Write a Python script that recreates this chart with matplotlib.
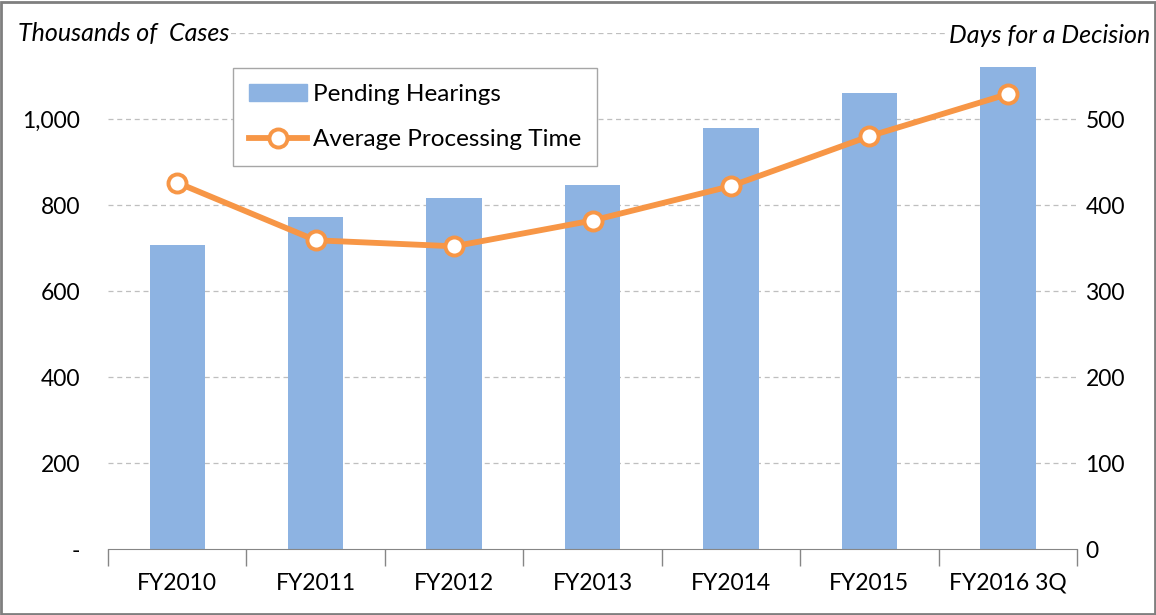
import matplotlib.pyplot as plt
import numpy as np
from matplotlib.patches import Rectangle
from matplotlib.lines import Line2D

years = ['FY2010', 'FY2011', 'FY2012', 'FY2013', 'FY2014', 'FY2015', 'FY2016 3Q']
pending = [707, 772, 816, 847, 979, 1060, 1121]
avg_days = [426, 359, 352, 382, 422, 480, 529]
left_ticks = [0, 200, 400, 600, 800, 1000]
left_labels = ['-', '200', '400', '600', '800', '1,000']
right_ticks = [0, 100, 200, 300, 400, 500]

bar_color = '#8DB3E2'
line_color = '#F79646'
grid_color = '#BFBFBF'

plt.rcParams['font.family'] = ['Lato', 'DejaVu Sans']

fig = plt.figure(figsize=(11.56, 6.15), dpi=100)
ax = fig.add_axes([0.0934, 0.1073, 0.8383, 0.839])
x = np.arange(len(years))

for y in left_ticks[1:] + [1200]:
    ax.axhline(y, color=grid_color, lw=0.9, ls=(0, (4, 3)), zorder=0)

ax.bar(x, pending, width=0.4, color=bar_color, zorder=2, label='Pending Hearings')
ax.set_xlim(-0.5, len(years) - 0.5)
ax.set_ylim(0, 1200)
ax.set_yticks(left_ticks)
ax.set_yticklabels(left_labels)
ax.set_xticks(x)
ax.set_xticklabels(years)
ax.set_xticks(np.arange(-0.5, len(years)), minor=True)
ax.tick_params(axis='x', which='major', length=0, pad=17, labelsize=16.5)
ax.tick_params(axis='x', which='minor', length=12, color='#868686', width=1)
ax.tick_params(axis='y', length=0, pad=20, labelsize=16.5)
for s in ['left', 'right', 'top']:
    ax.spines[s].set_visible(False)
ax.spines['bottom'].set_color('#868686')

ax2 = ax.twinx()
ax2.plot(x, avg_days, color=line_color, lw=4.2, marker='o', markersize=13,
         markerfacecolor='white', markeredgecolor=line_color, markeredgewidth=2.8, zorder=3)
ax2.set_ylim(0, 600)
ax2.set_yticks(right_ticks)
ax2.tick_params(axis='y', length=0, pad=6, labelsize=16.5)
for s in ['left', 'right', 'top', 'bottom']:
    ax2.spines[s].set_visible(False)

fig.text(0.016, 0.946, 'Thousands of  Cases', fontsize=18, style='italic', va='center', ha='left',
         bbox=dict(facecolor='white', edgecolor='none', pad=1))
fig.text(0.995, 0.943, 'Days for a Decision', fontsize=18, style='italic', va='center', ha='right',
         bbox=dict(facecolor='white', edgecolor='none', pad=1))

handles = [Rectangle((0, 0), 1, 1, color=bar_color),
           Line2D([], [], color=line_color, lw=4.2, marker='o', markersize=13,
                  markerfacecolor='white', markeredgecolor=line_color, markeredgewidth=2.8)]
leg = ax2.legend(handles, ['Pending Hearings', 'Average Processing Time'],
                 loc='upper left', bbox_to_anchor=(0.129, 0.932), fontsize=17.5,
                 fancybox=False, framealpha=1, edgecolor='#A6A6A6',
                 handlelength=2.4, labelspacing=1.0, borderpad=0.65, handletextpad=0.25,
                 borderaxespad=0)
leg.get_frame().set_linewidth(1)

fig.patches.append(Rectangle((0.001, 0.001), 0.998, 0.995, transform=fig.transFigure,
                             fill=False, edgecolor='#7F7F7F', lw=2))

fig.savefig('out.png', dpi=100)
